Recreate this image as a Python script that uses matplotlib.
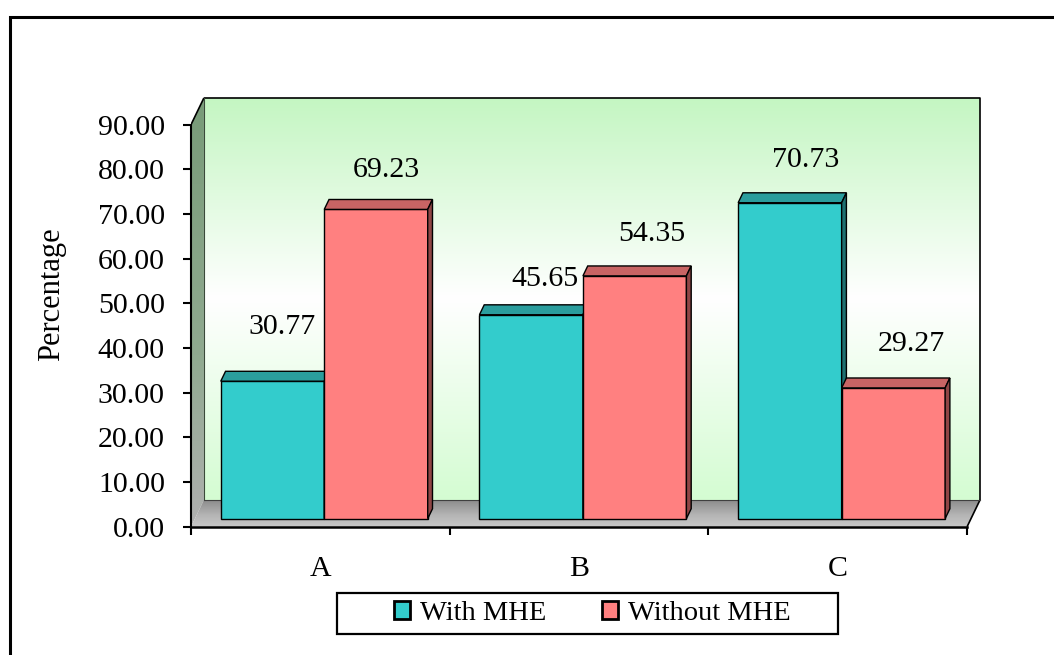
import numpy as np
import matplotlib
matplotlib.use('Agg')
import matplotlib.pyplot as plt
from matplotlib.patches import Polygon, Rectangle, Patch
from matplotlib.colors import to_rgb

plt.rcParams['font.family'] = ['Liberation Serif', 'DejaVu Serif']

# Data
groups = ['A', 'B', 'C']
with_mhe = [30.77, 45.65, 70.73]
without_mhe = [69.23, 54.35, 29.27]
series_names = ['With MHE', 'Without MHE']
y_ticks = [0, 10, 20, 30, 40, 50, 60, 70, 80, 90]

# Face colours (front, top, side) per series
face_colors = [('#33cccc', '#2a9d9d', '#1e7070'),
               ('#ff8080', '#c86464', '#8f4545')]

# Value label nudges in pixels (right, up) from the front top of each bar
label_dx = [[10, 14, 16], [10, 17, 18]]
label_dy = [[54, 36, 43], [39, 42, 44]]

# 3D box depth in data units and bar placement inside it
DX, DY = 0.05, 6.0
front_frac, depth_frac = 0.3, 0.37
bar_w = 0.4

W, H = 1054, 655
fig = plt.figure(figsize=(W / 100, H / 100), dpi=100, facecolor='white')

# axes: x -0.5..2.57, y 0..97 ; front plane 0 at y=526.7px, 4.467 px per unit
x_lo, x_hi, y_lo, y_hi = -0.5, 2.57, 0, 97
px_x, px_y = 258.7, 4.467
left_px, bottom_px = 191, 526.7
ax = fig.add_axes([left_px / W, 1 - bottom_px / H,
                   (x_hi - x_lo) * px_x / W, (y_hi - y_lo) * px_y / H])
ax.set_facecolor('none')


def gradient_fill(poly_pts, stops, extent, z):
    poly = Polygon(poly_pts, closed=True, facecolor='none', edgecolor='none', zorder=z)
    ax.add_patch(poly)
    n = 256
    pos = [s[0] for s in stops]
    cols = np.array([to_rgb(s[1]) for s in stops])
    t = np.linspace(0, 1, n)
    img = np.stack([np.interp(t, pos, cols[:, k]) for k in range(3)], axis=-1)[:, None, :]
    im = ax.imshow(img, extent=extent, aspect='auto', origin='upper',
                   interpolation='bilinear', zorder=z)
    im.set_clip_path(poly)
    return poly


x0, x1 = -0.5, 2.5
# back wall
gradient_fill([(x0 + DX, DY), (x1 + DX, DY), (x1 + DX, 90 + DY), (x0 + DX, 90 + DY)],
              [(0, '#c4f6c2'), (0.5, '#ffffff'), (1, '#d4fcd2')],
              (x0 + DX, x1 + DX, DY, 90 + DY), 0.5)
# side wall
gradient_fill([(x0, 0), (x0 + DX, DY), (x0 + DX, 90 + DY), (x0, 90)],
              [(0, '#789b78'), (0.6, '#90aa90'), (1, '#b0b0b0')],
              (x0, x0 + DX, 0, 90 + DY), 0.6)
# floor
gradient_fill([(x0, 0), (x1, 0), (x1 + DX, DY), (x0 + DX, DY)],
              [(0, '#8c8c8c'), (0.55, '#b4b4b4'), (1, '#c8c8c8')],
              (x0, x1 + DX, 0, DY), 0.6)

# wall and floor outlines
line_kw = dict(color='black', lw=1.2, zorder=2, solid_capstyle='butt')
ax.plot([x0 + DX, x1 + DX, x1 + DX], [90 + DY, 90 + DY, DY], **line_kw)
ax.plot([x0, x0 + DX], [90, 90 + DY], **line_kw)
ax.plot([x0 + DX, x0 + DX], [DY, 90 + DY], color='#3a4a3a', lw=0.8, zorder=2)
ax.plot([x1, x1 + DX], [0, DY], **line_kw)
ax.plot([x0 + DX, x1 + DX], [DY, DY], color='#404040', lw=0.8, zorder=2)

# bars
ox, oy = front_frac * DX, front_frac * DY
bdx, bdy = depth_frac * DX, depth_frac * DY
idx = np.arange(len(groups))
series = [with_mhe, without_mhe]
edge_kw = dict(edgecolor='black', linewidth=1.0)
for g in idx:
    for s, vals in enumerate(series):
        front, top_c, side_c = face_colors[s]
        bar = ax.bar(g - bar_w + s * bar_w + ox, vals[g], width=bar_w, bottom=oy,
                     align='edge', color=front, zorder=3 + g * 2 + s, **edge_kw)[0]
        bx0, bx1 = bar.get_x(), bar.get_x() + bar.get_width()
        by0, by1 = bar.get_y(), bar.get_y() + bar.get_height()
        z = bar.get_zorder()
        ax.add_patch(Polygon([(bx0, by1), (bx1, by1), (bx1 + bdx, by1 + bdy), (bx0 + bdx, by1 + bdy)],
                             closed=True, facecolor=top_c, zorder=z, **edge_kw))
        ax.add_patch(Polygon([(bx1, by0), (bx1 + bdx, by0 + bdy), (bx1 + bdx, by1 + bdy), (bx1, by1)],
                             closed=True, facecolor=side_c, zorder=z, **edge_kw))
        ax.annotate(f'{vals[g]:.2f}', xy=((bx0 + bx1) / 2, by1),
                    xytext=(label_dx[s][g] * 0.72, label_dy[s][g] * 0.72),
                    textcoords='offset points', ha='center', va='center',
                    fontsize=21.5, zorder=20)

# axes styling
ax.set_xlim(x_lo, x_hi)
ax.set_ylim(y_lo, y_hi)
for side in ['top', 'right']:
    ax.spines[side].set_visible(False)
ax.spines['left'].set_bounds(0, 90)
ax.spines['bottom'].set_bounds(x0, x1)
ax.spines['left'].set_linewidth(1.5)
ax.spines['bottom'].set_linewidth(1.8)
ax.spines['left'].set_zorder(2.5)
ax.spines['bottom'].set_zorder(2.5)

ax.set_yticks(y_ticks)
ax.set_yticklabels([f'{t:.2f}' for t in y_ticks])
ax.tick_params(axis='y', direction='out', length=5.8, width=1.5, pad=13, labelsize=21.5)

ax.set_xticks([-0.5, 0.5, 1.5, 2.5])
ax.set_xticklabels([])
ax.set_xticks(idx, minor=True)
ax.set_xticklabels(groups, minor=True)
ax.tick_params(axis='x', which='major', direction='out', length=5.8, width=1.5)
ax.tick_params(axis='x', which='minor', length=0, pad=21, labelsize=21.5)

fig.text(52 / W, 1 - 294.5 / H, 'Percentage', rotation=90, ha='center', va='center',
         fontsize=22)

# legend
handles = [Patch(facecolor=face_colors[i][0], edgecolor='black', linewidth=2)
           for i in range(2)]
fig.legend(handles, series_names, loc='center', bbox_to_anchor=(592 / W, 1 - 613.5 / H),
           ncol=2, frameon=False, fontsize=20.5, handlelength=0.56, handleheight=0.56,
           handletextpad=0.35, columnspacing=1.96)
fig.add_artist(Rectangle((337 / W, 1 - 634 / H), 501 / W, 41 / H, transform=fig.transFigure,
                         fill=False, edgecolor='black', linewidth=1.6))

# outer chart border
fig.add_artist(Rectangle((10 / W, -0.05), 1.2, 1 - 17 / H + 0.05, transform=fig.transFigure,
                         fill=False, edgecolor='black', linewidth=2.2))

fig.savefig('out.png', dpi=100, facecolor='white')
